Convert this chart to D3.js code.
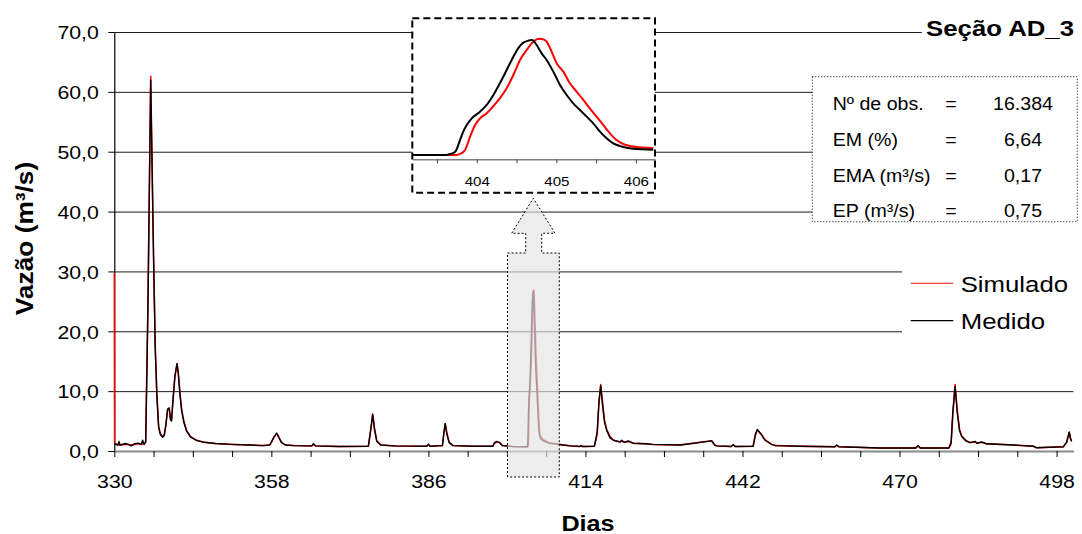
<!DOCTYPE html>
<html>
<head>
<meta charset="utf-8">
<script src="https://cdn.jsdelivr.net/npm/d3@7"></script>
<style>
  html, body { margin: 0; padding: 0; background: #fff; }
  svg { display: block; font-family: "Liberation Sans", Arial, sans-serif; }
</style>
</head>
<body>
<svg id="chart" width="1082" height="534"></svg>
<script>
// ---------------- DATA ----------------
const dias = [330.0, 330.05, 330.6, 330.85, 331.0, 332.0, 332.5, 333.0, 333.6, 334.3, 334.8, 335.05, 335.3, 335.6, 336.0, 336.49, 337.0, 337.3, 337.6, 337.9, 338.2, 338.6, 338.9, 339.2, 339.5, 339.79, 340.0, 340.2, 340.5, 340.8, 341.18, 341.4, 341.7, 342.0, 342.4, 342.9, 343.6, 344.6, 346, 348, 351, 354, 356.5, 357.7, 358.0, 358.5, 358.95, 359.3, 359.8, 360.5, 362, 365.2, 365.5, 365.9, 370, 375.3, 375.7, 376.07, 376.4, 376.8, 377.5, 380, 385.7, 386.0, 386.3, 388.5, 388.75, 389.0, 389.3, 389.7, 390.4, 394, 397.5, 397.8, 398.2, 398.7, 399.2, 401, 403.1,
  406.5, 407.5, 408.8, 410, 411.5, 413.0, 413.2, 413.5, 415.6, 416.1, 416.4, 416.72, 417.1, 417.4, 417.8, 418.4, 419.0, 420.2, 420.46, 420.9, 421.64, 422.5, 424.6, 426.0, 430.9, 436.5, 437.1, 437.5, 440.0, 440.36, 440.7, 443.9, 444.3, 444.64, 445.3, 446.0, 447.2, 447.9, 452, 458.5, 458.8, 459.2, 466.5, 472.9, 473.3, 473.7, 478.8, 479.2, 479.5, 479.9, 480.3, 480.7, 481.1, 481.8, 482.56, 483.5, 483.8, 484.65, 485.5, 490.3, 493.85, 494.4, 499.2, 499.8, 500.26, 500.5, 500.67];

const medido = [1.2, 1.2, 1.0, 1.6, 1.0, 1.25, 1.1, 0.85, 1.2, 1.3, 1.1, 1.8, 1.1, 1.5, 24, 62.0, 32, 17, 9, 4, 2.8, 2.3, 2.6, 4.5, 7.0, 7.2, 5.3, 5.0, 9, 12.5, 14.6, 13, 9.5, 6.8, 4.8, 3.3, 2.3, 1.8, 1.45, 1.25, 1.1, 1.0, 0.9, 1.0, 1.5, 2.4, 3.0, 2.3, 1.4, 1.0, 0.9, 0.85, 1.2, 0.85, 0.75, 0.8, 3.5, 6.1, 3.5, 1.6, 1.0, 0.85, 0.8, 1.15, 0.8, 0.9, 3.0, 4.6, 2.8, 1.4, 0.9, 0.8, 0.8, 1.4, 1.6, 1.4, 0.9, 0.75, 0.7,
  1.7, 1.3, 1.15, 1.0, 0.85, 0.75, 0.9, 0.75, 0.8, 3.2, 8.2, 10.9, 7.2, 4.8, 3.4, 2.2, 1.8, 1.5, 1.8, 1.45, 1.7, 1.3, 1.2, 1.1, 1.0, 1.7, 0.95, 0.85, 0.75, 1.1, 0.75, 0.8, 2.8, 3.6, 2.8, 1.8, 1.1, 0.9, 0.8, 0.7, 1.0, 0.7, 0.5, 0.5, 0.9, 0.5, 0.5, 1.5, 6.5, 10.8, 6.3, 3.4, 2.4, 1.7, 1.4, 1.6, 1.3, 1.5, 1.2, 1.0, 0.8, 0.55, 0.7, 1.5, 3.2, 2.0, 1.6];

const simulado = [29.7, 1.3, 1.0, 1.1, 1.0, 1.1, 1.1, 1.0, 1.1, 1.2, 1.1, 1.3, 1.1, 1.6, 25, 62.6, 33, 17.5, 9.3, 4.2, 2.9, 2.4, 2.6, 4.3, 6.8, 7.1, 5.5, 5.2, 8.8, 12.3, 14.6, 13.2, 9.8, 7.0, 5.0, 3.4, 2.4, 1.8, 1.45, 1.25, 1.1, 1.0, 0.9, 1.0, 1.4, 2.3, 2.9, 2.4, 1.5, 1.0, 0.9, 0.85, 1.15, 0.85, 0.75, 0.8, 3.3, 6.2, 3.8, 1.7, 1.0, 0.85, 0.8, 1.1, 0.8, 0.9, 2.8, 4.5, 3.0, 1.5, 0.9, 0.8, 0.8, 1.3, 1.5, 1.4, 0.9, 0.75, 0.7,
  1.9, 1.4, 1.2, 1.0, 0.85, 0.75, 0.9, 0.75, 0.8, 2.8, 7.8, 11.1, 7.8, 5.2, 3.6, 2.4, 1.8, 1.5, 1.7, 1.45, 1.6, 1.3, 1.2, 1.1, 1.0, 1.7, 0.95, 0.85, 0.75, 1.0, 0.75, 0.8, 2.6, 3.5, 2.9, 1.9, 1.1, 0.9, 0.8, 0.7, 0.95, 0.7, 0.5, 0.5, 0.85, 0.5, 0.5, 1.2, 6.0, 11.1, 6.8, 3.6, 2.5, 1.8, 1.4, 1.5, 1.3, 1.45, 1.2, 1.0, 0.8, 0.55, 0.7, 1.4, 3.1, 2.1, 1.7];

// detail of the event shown in the zoom window (day 403.2 - 406.2)
const diasZoomMedido = [403.20, 403.62, 403.665, 403.73, 403.79, 403.83, 403.874, 403.937, 404.041, 404.125, 404.209, 404.29, 404.376, 404.46, 404.52, 404.585, 404.648, 404.69, 404.71, 404.753, 404.816, 404.878, 404.962, 405.046, 405.13, 405.213, 405.297, 405.381, 405.464, 405.548, 405.632, 405.715, 405.80, 405.883, 405.966, 406.092, 406.218];
const zoomMedido = [0.7, 0.7, 0.93, 1.45, 4.08, 5.96, 7.47, 8.97, 10.47, 11.98, 14.23, 16.87, 19.87, 22.88, 24.76, 26.04, 26.49, 26.64, 26.49, 25.51, 23.63, 22.13, 19.5, 16.49, 14.23, 12.35, 10.85, 9.35, 7.84, 5.96, 4.46, 3.33, 2.73, 2.35, 2.13, 1.98, 1.9];
const diasZoomSimulado = [403.20, 403.75, 403.79, 403.853, 403.916, 403.979, 404.041, 404.125, 404.209, 404.29, 404.376, 404.46, 404.544, 404.627, 404.69, 404.753, 404.795, 404.837, 404.878, 404.941, 405.004, 405.088, 405.171, 405.255, 405.339, 405.42, 405.506, 405.59, 405.674, 405.757, 405.84, 405.925, 406.05, 406.218];
const zoomSimulado = [0.7, 0.7, 0.93, 1.83, 4.84, 7.47, 8.97, 10.1, 11.75, 13.48, 15.74, 18.74, 22.13, 24.38, 25.89, 26.79, 26.94, 26.79, 26.26, 24.0, 21.38, 19.5, 16.87, 14.99, 13.11, 11.23, 9.35, 7.47, 5.59, 4.08, 3.18, 2.73, 2.43, 2.28];

const yTicks = [0, 10, 20, 30, 40, 50, 60, 70];
const xTicks = d3.range(330, 499, 7);
const xLabelTicks = [330, 358, 386, 414, 442, 470, 498];
const zoomTicks = [403.5, 404, 404.5, 405, 405.5, 406];
const zoomLabelTicks = [404, 405, 406];
const seriesNames = ["Simulado", "Medido"];
const seriesColors = ["#ff0000", "#000000"];
const titulo = "Seção AD_3";
const eixoY = "Vazão (m³/s)";
const eixoX = "Dias";
const statsLabels = ["Nº de obs.", "EM (%)", "EMA (m³/s)", "EP (m³/s)"];
const statsValues = ["16.384", "6,64", "0,17", "0,75"];

// ---------------- SETUP ----------------
const SX = 1.12; // horizontal glyph stretch
const svg = d3.select("#chart");
const ptLocale = d3.formatLocale({decimal: ",", thousands: ".", grouping: [3], currency: ["", ""]});
const fmt1 = ptLocale.format(".1f");

const x = d3.scaleLinear().domain([330, 501]).range([114.3, 1073.4]);
const y = d3.scaleLinear().domain([0, 70]).range([451, 32]);

function txt(g, px, py, s, size, anchor, weight, rot) {
  return g.append("text")
    .attr("transform", `translate(${px},${py})` + (rot ? ` rotate(${rot})` : "") + ` scale(${SX},1)`)
    .attr("text-anchor", anchor || "start")
    .attr("font-size", size)
    .attr("font-weight", weight || "normal")
    .attr("fill", "#000")
    .text(s);
}

function merge(d1, v1, d2, v2) {
  const pts = d1.map((d, i) => [d, v1[i]]).concat(d2.map((d, i) => [d, v2[i]]));
  pts.sort((a, b) => a[0] - b[0]);
  return pts;
}
const simPts = merge(dias, simulado, diasZoomSimulado, zoomSimulado);
const medPts = merge(dias, medido, diasZoomMedido, zoomMedido);

// ---------------- GRID ----------------
svg.append("g").selectAll("line").data(yTicks.filter(v => v > 0)).join("line")
  .attr("x1", x.range()[0]).attr("x2", x.range()[1])
  .attr("y1", d => y(d) + 0.5).attr("y2", d => y(d) + 0.5)
  .attr("stroke", "#1a1a1a").attr("stroke-width", 1);

// ---------------- AXES ----------------
const yAxisG = svg.append("g").attr("transform", `translate(${x.range()[0]},0)`)
  .call(d3.axisLeft(y).tickValues(yTicks).tickSize(6).tickSizeOuter(0).tickFormat(fmt1));
yAxisG.attr("font-family", null).attr("font-size", null);
yAxisG.select(".domain").attr("stroke", "#000").attr("stroke-width", 1.2);
yAxisG.selectAll(".tick line").attr("stroke", "#000");
yAxisG.selectAll(".tick text").attr("x", null).attr("dy", null)
  .attr("transform", `translate(-15.5,6.8) scale(${SX},1)`)
  .attr("font-size", 19).attr("fill", "#000");

const xAxisG = svg.append("g").attr("transform", `translate(0,${y(0)})`)
  .call(d3.axisBottom(x).tickValues(xTicks).tickSize(6).tickSizeOuter(0)
    .tickFormat(d => xLabelTicks.includes(d) ? String(d) : ""));
xAxisG.attr("font-family", null).attr("font-size", null);
xAxisG.select(".domain").attr("stroke", "#8a8a8a").attr("stroke-width", 2);
xAxisG.selectAll(".tick line").attr("stroke", "#000");
xAxisG.selectAll(".tick text").attr("y", null).attr("dy", null)
  .attr("transform", `translate(0,37) scale(${SX},1)`)
  .attr("font-size", 19).attr("fill", "#000");

txt(svg, 33, 238.5, eixoY, 23.5, "middle", "bold", -90);
txt(svg, 588, 530.5, eixoX, 22.5, "middle", "bold");

// ---------------- SERIES ----------------
const line = d3.line().x(d => x(d[0])).y(d => y(d[1]));
svg.append("path").datum(simPts).attr("d", line)
  .attr("fill", "none").attr("stroke", seriesColors[0]).attr("stroke-width", 1.5).attr("stroke-linejoin", "round");
svg.append("path").datum(medPts).attr("d", line)
  .attr("fill", "none").attr("stroke", seriesColors[1]).attr("stroke-width", 1.4).attr("stroke-linejoin", "round");

// ---------------- HIGHLIGHT WINDOW + ARROW ----------------
svg.append("path")
  .attr("d", "M507.5,477 L507.5,253 L525.7,253 L525.7,233.3 L511.7,233.3 L533.3,198.3 L555,233.3 L541.7,233.3 L541.7,253 L559.3,253 L559.3,477 Z")
  .attr("fill", "#e4e4e4").attr("fill-opacity", 0.68)
  .attr("stroke", "#000").attr("stroke-width", 1).attr("stroke-dasharray", "2,2");

// ---------------- INSET ----------------
const ins = {x0: 412.3, y0: 18.3, x1: 655, y1: 192.7, axisY: 159.3};
const xi = d3.scaleLinear().domain([403.19, 406.24]).range([ins.x0, ins.x1]);
const yi = d3.scaleLinear().domain([0, 27]).range([158.1, 38.4]);
svg.append("rect").attr("x", ins.x0).attr("y", ins.y0)
  .attr("width", ins.x1 - ins.x0).attr("height", ins.y1 - ins.y0)
  .attr("fill", "#fff");
svg.append("clipPath").attr("id", "insClip").append("rect")
  .attr("x", ins.x0).attr("y", ins.y0).attr("width", ins.x1 - ins.x0).attr("height", ins.axisY - ins.y0);
const insG = svg.append("g").attr("clip-path", "url(#insClip)");
const lineI = d3.line().x(d => xi(d[0])).y(d => yi(d[1])).curve(d3.curveMonotoneX);
insG.append("path").datum(diasZoomSimulado.map((d, i) => [d, zoomSimulado[i]])).attr("d", lineI)
  .attr("fill", "none").attr("stroke", seriesColors[0]).attr("stroke-width", 2).attr("stroke-linejoin", "round");
insG.append("path").datum(diasZoomMedido.map((d, i) => [d, zoomMedido[i]])).attr("d", lineI)
  .attr("fill", "none").attr("stroke", seriesColors[1]).attr("stroke-width", 2).attr("stroke-linejoin", "round");
const xiAxisG = svg.append("g").attr("transform", `translate(0,${ins.axisY})`)
  .call(d3.axisBottom(xi).tickValues(zoomTicks).tickSize(4).tickSizeOuter(0)
    .tickFormat(d => zoomLabelTicks.includes(d) ? String(d) : ""));
xiAxisG.attr("font-family", null).attr("font-size", null);
xiAxisG.select(".domain").attr("stroke", "#808080").attr("stroke-width", 1.6);
xiAxisG.selectAll(".tick line").attr("stroke", "#444");
xiAxisG.selectAll(".tick text").attr("y", null).attr("dy", null)
  .attr("transform", `translate(0,26.4) scale(${SX},1)`)
  .attr("font-size", 13.5).attr("fill", "#000");
svg.append("rect").attr("x", ins.x0).attr("y", ins.y0)
  .attr("width", ins.x1 - ins.x0).attr("height", ins.y1 - ins.y0)
  .attr("fill", "none").attr("stroke", "#000").attr("stroke-width", 2).attr("stroke-dasharray", "7,4");

// ---------------- STATS BOX ----------------
svg.append("rect").attr("x", 812.3).attr("y", 76.7).attr("width", 265).attr("height", 145)
  .attr("fill", "#fff").attr("stroke", "#000").attr("stroke-width", 1).attr("stroke-dasharray", "1,2");
const statsRowY = [110, 146, 181.5, 216.5];
statsLabels.forEach((s, i) => {
  txt(svg, 832.7, statsRowY[i], s, 17.5, "start");
  txt(svg, 951, statsRowY[i], "=", 17.5, "middle");
  txt(svg, 1023, statsRowY[i], statsValues[i], 17.5, "middle");
});

// ---------------- LEGEND ----------------
svg.append("rect").attr("x", 902).attr("y", 252).attr("width", 180).attr("height", 92).attr("fill", "#fff");
const legY = [283.3, 320.7];
seriesNames.forEach((n, i) => {
  svg.append("line").attr("x1", 910.7).attr("x2", 953.3).attr("y1", legY[i]).attr("y2", legY[i])
    .attr("stroke", i === 0 ? "#ff4040" : "#000").attr("stroke-width", 1.3);
  txt(svg, 960.7, legY[i] + 8.3, n, 23, "start");
});

// ---------------- TITLE ----------------
svg.append("rect").attr("x", 921.7).attr("y", 16).attr("width", 160).attr("height", 30).attr("fill", "#fff");
txt(svg, 1074, 35.5, titulo, 23, "end", "bold");
</script>
</body>
</html>
